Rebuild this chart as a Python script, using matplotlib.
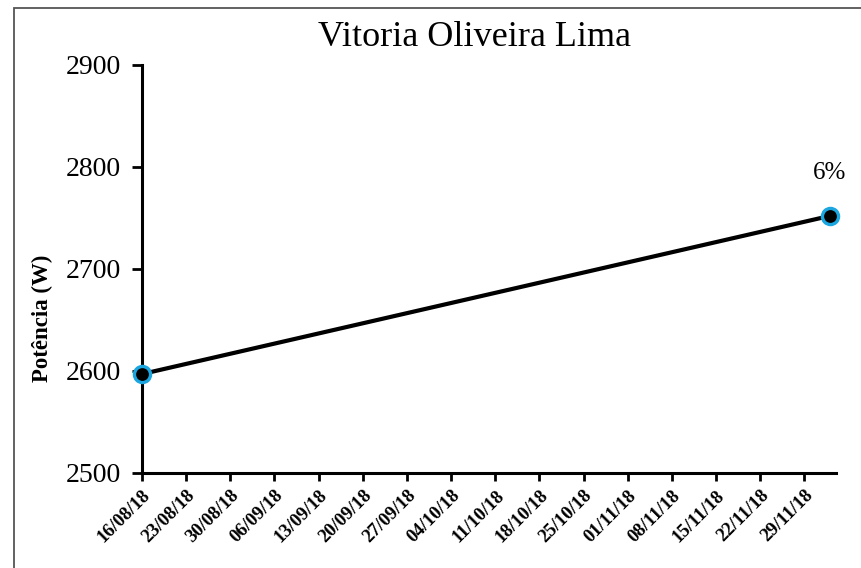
import matplotlib
matplotlib.use('Agg')
import matplotlib.pyplot as plt
import matplotlib.dates as mdates
from matplotlib.patches import Rectangle
import pandas as pd

# --- dados ---
datas = ['16/08/2018', '03/12/2018']
potencia = [2597, 2752]
rotulo = '6%'
titulo = 'Vitoria Oliveira Lima'

x = pd.to_datetime(datas, dayfirst=True)
ticks = pd.date_range('2018-08-16', '2018-11-29', freq='7D')

plt.rcParams['font.family'] = ['Liberation Serif', 'DejaVu Serif']

fig = plt.figure(figsize=(8.61, 5.68), dpi=100)
ax = fig.add_axes([142/861, 95/568, 694/861, 408/568])

# moldura cinza da figura
fig.patches.append(Rectangle((14/861, -0.1), 1.2, (568-8)/568 + 0.1, transform=fig.transFigure,
                             fill=False, edgecolor='#555555', lw=1.3))

ax.plot(x, potencia, color='black', lw=3, zorder=2, clip_on=False)
ax.scatter(x, potencia, s=135, facecolor='black', edgecolor='#1BA6E0', linewidths=2.4, zorder=3, clip_on=False)
ax.annotate(rotulo, (x[-1], potencia[-1]), xytext=(0, 31), textcoords='offset points',
            ha='center', va='center', fontsize=18)

ax.set_xlim(pd.Timestamp('2018-08-16'), pd.Timestamp('2018-12-04'))
ax.set_xticks(ticks)
ax.xaxis.set_major_formatter(mdates.DateFormatter('%d/%m/%y'))
plt.setp(ax.get_xticklabels(), rotation=45, ha='right', rotation_mode='anchor', fontweight='bold', fontsize=13.5)

ax.set_ylim(2500, 2900)
ax.set_yticks([2500, 2600, 2700, 2800, 2900])
ax.tick_params(axis='y', labelsize=20, width=2, length=7, pad=8)
ax.tick_params(axis='x', width=2, length=6, pad=4)

ax.set_ylabel('Potência (W)', fontsize=16.5, fontweight='bold')
ax.yaxis.set_label_coords(-(142 - 53) / 694, (473 - 318) / 408)
fig.text(475/861, 1 - 37/568, titulo, fontsize=26, ha='center', va='center')

for s in ['top', 'right']:
    ax.spines[s].set_visible(False)
for s in ['left', 'bottom']:
    ax.spines[s].set_linewidth(2.2)

fig.savefig('out.png', dpi=100)
